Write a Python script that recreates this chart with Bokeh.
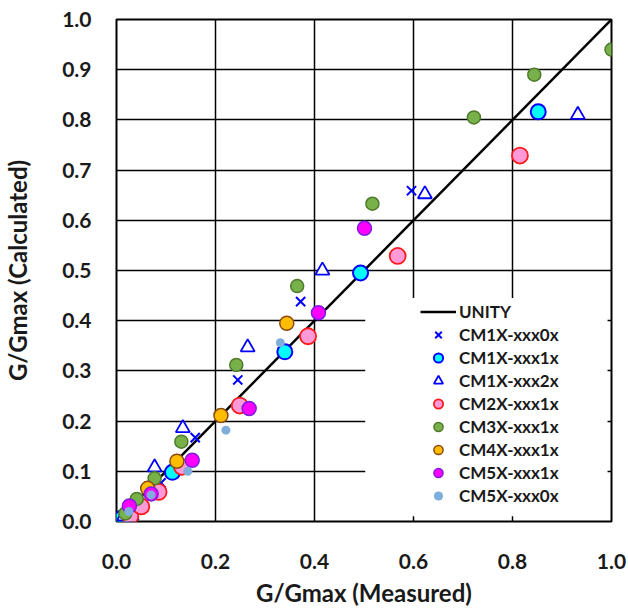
from bokeh.plotting import figure
from bokeh.models import (Range1d, FixedTicker, NumeralTickFormatter, Legend,
                          LegendItem, BoxAnnotation)
from bokeh.embed import file_html
from bokeh.resources import INLINE

# ---------------- data ----------------
x_ticks = [0.0, 0.2, 0.4, 0.6, 0.8, 1.0]
y_ticks = [0.0, 0.1, 0.2, 0.3, 0.4, 0.5, 0.6, 0.7, 0.8, 0.9, 1.0]

unity_x = [0.0, 1.0]
unity_y = [0.0, 1.0]

cm1_0x_x = [0.010, 0.036, 0.090, 0.159, 0.245, 0.372, 0.596]
cm1_0x_y = [0.004, 0.012, 0.077, 0.167, 0.282, 0.438, 0.659]

cm1_1x_x = [0.011, 0.113, 0.340, 0.493, 0.852]
cm1_1x_y = [0.007, 0.098, 0.338, 0.495, 0.816]

cm1_2x_x = [0.015, 0.077, 0.134, 0.265, 0.416, 0.623, 0.932]
cm1_2x_y = [0.010, 0.108, 0.186, 0.347, 0.500, 0.652, 0.810]

cm2_1x_x = [0.028, 0.050, 0.085, 0.132, 0.249, 0.387, 0.568, 0.815]
cm2_1x_y = [0.010, 0.030, 0.059, 0.109, 0.231, 0.369, 0.529, 0.729]

cm3_1x_x = [0.018, 0.041, 0.077, 0.131, 0.242, 0.365, 0.517, 0.722, 0.844, 1.000]
cm3_1x_y = [0.016, 0.045, 0.086, 0.159, 0.312, 0.469, 0.633, 0.805, 0.890, 0.940]

cm4_1x_x = [0.063, 0.122, 0.211, 0.344]
cm4_1x_y = [0.066, 0.120, 0.211, 0.395]

cm5_1x_x = [0.026, 0.070, 0.153, 0.268, 0.408, 0.501]
cm5_1x_y = [0.031, 0.055, 0.122, 0.225, 0.416, 0.584]

cm5_0x_x = [0.025, 0.070, 0.144, 0.221, 0.331]
cm5_0x_y = [0.020, 0.053, 0.100, 0.182, 0.356]

series_names = ["CM1X-xxx0x", "CM1X-xxx1x", "CM1X-xxx2x", "CM2X-xxx1x",
                "CM3X-xxx1x", "CM4X-xxx1x", "CM5X-xxx1x", "CM5X-xxx0x"]
series_data = [(cm1_0x_x, cm1_0x_y), (cm1_1x_x, cm1_1x_y), (cm1_2x_x, cm1_2x_y),
               (cm2_1x_x, cm2_1x_y), (cm3_1x_x, cm3_1x_y), (cm4_1x_x, cm4_1x_y),
               (cm5_1x_x, cm5_1x_y), (cm5_0x_x, cm5_0x_y)]

# ---------------- styles ----------------
styles = [
    dict(marker="x", size=13, line_color="#0000FF", line_width=2, fill_color=None),
    dict(marker="circle", size=15, line_color="#0000FF", line_width=2, fill_color="#00FFFF"),
    dict(marker="triangle", size=14, line_color="#0000FF", line_width=1.8, fill_color="white"),
    dict(marker="circle", size=16, line_color="#FF1A1A", line_width=1.8, fill_color="#FF99D8"),
    dict(marker="circle", size=13, line_color="#4E7A2A", line_width=1.5, fill_color="#78B04A"),
    dict(marker="circle", size=14, line_color="#8A4A10", line_width=1.5, fill_color="#FFBC00"),
    dict(marker="circle", size=14, line_color="#7A1FE0", line_width=1.5, fill_color="#FF00FF"),
    dict(marker="circle", size=9, line_color=None, line_width=0, fill_color="#7FAEDD"),
]

FONT = "Lato"
TXT = "#1a1a1a"

p = figure(width=628, height=609, x_range=Range1d(0, 1), y_range=Range1d(0, 1),
           output_backend="svg", toolbar_location=None,
           min_border_left=114, min_border_right=17, min_border_top=19,
           min_border_bottom=86)

p.background_fill_color = "white"
p.border_fill_color = "white"
p.outline_line_color = "black"
p.outline_line_width = 2
p.outline_line_alpha = 1

p.xaxis.ticker = FixedTicker(ticks=x_ticks)
p.yaxis.ticker = FixedTicker(ticks=y_ticks)
p.xaxis.formatter = NumeralTickFormatter(format="0.0")
p.yaxis.formatter = NumeralTickFormatter(format="0.0")
p.xgrid.ticker = FixedTicker(ticks=x_ticks[1:-1])
p.ygrid.ticker = FixedTicker(ticks=y_ticks[1:-1])
for g in (p.xgrid, p.ygrid):
    g.grid_line_color = "black"
    g.grid_line_alpha = 1
    g.grid_line_width = 1.5

for ax in (p.xaxis, p.yaxis):
    ax.axis_line_color = None
    ax.major_tick_line_color = None
    ax.minor_tick_line_color = None
    ax.major_tick_out = 0
    ax.major_tick_in = 0
    ax.major_label_text_font = FONT
    ax.major_label_text_font_style = "bold"
    ax.major_label_text_font_size = "21px"
    ax.major_label_text_color = TXT
    ax.axis_label_text_font = FONT
    ax.axis_label_text_font_style = "bold"
    ax.axis_label_text_font_size = "24px"
    ax.axis_label_text_color = TXT

p.xaxis.axis_label = "G/Gmax (Measured)"
p.yaxis.axis_label = "G/Gmax (Calculated)"
p.xaxis.major_label_standoff = 32
p.yaxis.major_label_standoff = 25
p.xaxis.axis_label_standoff = 6
p.yaxis.axis_label_standoff = 27

r_unity = p.line(unity_x, unity_y, line_color="black", line_width=2.5)

items = [LegendItem(label="UNITY", renderers=[r_unity])]
for name, (xs, ys), st in zip(series_names, series_data, styles):
    r = p.scatter(xs, ys, **st)
    items.append(LegendItem(label=name, renderers=[r]))

box = BoxAnnotation(left=0.5025, right=0.992, bottom=0.0105, top=0.445,
                    fill_color="white", fill_alpha=1, line_color=None)
p.add_layout(box)

legend = Legend(items=items, location=(304, 14), padding=0, margin=0,
                background_fill_alpha=0, border_line_color=None,
                glyph_width=36, glyph_height=23, label_height=23, spacing=0,
                label_standoff=3, label_text_font=FONT,
                label_text_font_style="bold", label_text_font_size="17px",
                label_text_color=TXT)
p.add_layout(legend)

open("out.html", "w").write(file_html(p, INLINE))
